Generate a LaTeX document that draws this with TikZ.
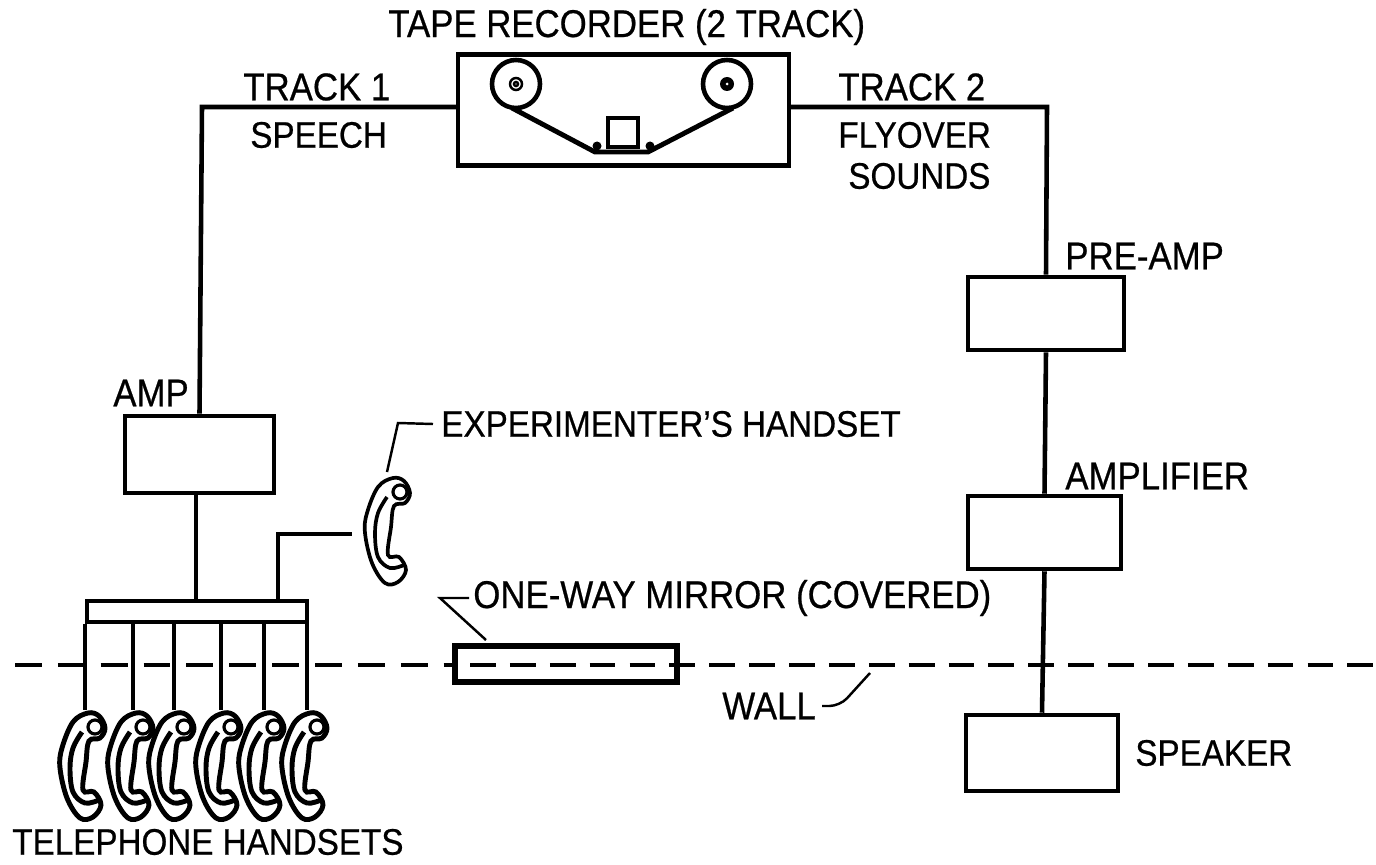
\documentclass[tikz,border=0pt]{standalone}
\usepackage{fontspec}
\setmainfont[FakeStretch=0.9,FakeBold=0.6]{Liberation Sans}
\usetikzlibrary{positioning}

\begin{document}
\begin{tikzpicture}[x=0.02cm,y=-0.02cm,
      bx/.style={rectangle,draw,line width=2.6pt,inner sep=0pt},
      wire/.style={line width=2.6pt},
      lead/.style={line width=1.4pt},
      lab/.style={anchor=west,inner sep=0pt,font=\fontsize{22}{24}\selectfont},
      labn/.style={lab,font=\fontsize{21}{24}\selectfont},
      handset/.pic={
        \draw[line width=#1pt] plot[smooth cycle,tension=0.6] coordinates
          {(8,-52) (19,-49) (25,-37) (20,-27) (9,-24) (6,-3) (3,25) (14,27) (21,40) (13,52) (0,53) (-13,33) (-20,3) (-18,-17) (-7,-43)};
        \draw[line width=1.8pt] (15,-38) circle (7);
        \draw[line width=#1pt] plot[smooth,tension=0.6] coordinates
          {(2,-33) (-7,-17) (-10,3) (-7,27) (5,38) (19,35)};
        \coordinate (-top) at (5,-55);
      }]
      \useasboundingbox (0,0) rectangle (1376,865);
      % boxes
      \node[bx,minimum width=6.62cm,minimum height=2.22cm] (tape)  at (623.5,110) {};
      \node[bx,minimum width=2.98cm,minimum height=1.54cm] (amp)   at (199.5,454.5) {};
      \node[bx,minimum width=3.12cm,minimum height=1.46cm] (pre)   at (1046,313.5) {};
      \node[bx,minimum width=3.06cm,minimum height=1.46cm] (ampl)  at (1044.5,532.5) {};
      \node[bx,minimum width=3.04cm,minimum height=1.52cm] (spkr)  at (1042,753) {};
      \node[bx,minimum width=4.40cm,minimum height=0.42cm] (bar)   at (197,611.5) {};
      \node[bx,line width=3pt,minimum width=4.44cm,minimum height=0.72cm] (mirror) at (566,664) {};
      % tape deck
      \draw[wire] (516,84) circle (24) (727,84) circle (24);
      \draw[lead] (516,84) circle (6) (516,84) circle (2);
      \fill (727,84) circle (7);
      \fill[white] (727,84) circle (1.5);
      \draw[line width=2.8pt] (608,118) rectangle (638,147);
      \draw[line width=2.8pt] (512,108) -- (595,152) -- (648,152) -- (733,108);
      \fill (597,146) circle (4.5) (650,146) circle (4.5);
      % wall
      \coordinate (wl) at (15,665);
      \coordinate (wm) at (453,665);
      \coordinate (wn) at (470,665);
      \coordinate (wr) at (1376,665);
      \draw[wire,dash pattern=on 15.3pt off 9.1pt] (wl) -- (wm);
      \draw[wire,dash pattern=on 14.7pt off 8pt] (wn) -- (wr);
      % handsets
      \pic (exp) at (385,530) {handset=2.1};
      \foreach \n/\x in {1/80,2/128,3/169,4/216,5/259,6/302} {
        \pic (h\n) at (\x,765) {handset=2.8};
        \draw[wire] (h\n-top |- bar.south) -- (h\n-top);
      }
      % wiring
      \coordinate (t1) at (458,107);
      \coordinate (t2) at (789,107);
      \coordinate (c1) at (202,107);
      \coordinate (c2) at (1047,107);
      \draw[wire] (t1) -- (c1) -- (amp.north);
      \draw[wire] (t2) -- (c2) -- (pre.north);
      \draw[wire] (pre.south) -- (ampl.north);
      \draw[wire] (ampl.south) -- (spkr.north);
      \coordinate (a1) at (196,601);
      \draw[wire] (a1 |- amp.south) -- (a1);
      \coordinate (x1) at (278,601);
      \coordinate (x2) at (352,534);
      \draw[wire] (x1) |- (x2);
      % leaders
      \node[labn] (exptxt) at (441,424) {EXPERIMENTER'S HANDSET};
      \node[lab] (mirtxt) at (473,598) {ONE-WAY MIRROR (COVERED)};
      \node[lab] (walltxt) at (722,706) {WALL};
      \coordinate (e1) at (398,423);
      \coordinate (e2) at (387,472);
      \draw[lead] (exptxt.west) ++(-8,0) -- (e1) -- (e2);
      \coordinate (m1) at (440,598);
      \coordinate (m2) at (486,640);
      \draw[lead] (mirtxt.west) ++(-4,0) -- (m1) -- (m2);
      \coordinate (w1) at (840,706);
      \coordinate (w2) at (870,673);
      \draw[lead,rounded corners=6pt] (walltxt.east) ++(6,0) -- (w1) -- (w2);
      % labels
      \node[lab] (title) at (388,27) {TAPE RECORDER (2 TRACK)};
      \node[lab] (tr1) at (243,87) {TRACK 1};
      \node[labn] (sp)  at (250,135) {SPEECH};
      \node[lab] (tr2) at (838,87) {TRACK 2};
      \node[labn] (fly) at (838,135) {FLYOVER};
      \node[labn] (snd) at (848,176) {SOUNDS};
      \node[lab] (lpre) at (1065,256) {PRE-AMP};
      \node[lab] (lamp) at (113,393) {AMP};
      \node[lab] (lampl) at (1065,476) {AMPLIFIER};
      \node[labn] (lspk) at (1135,753) {SPEAKER};
      \node[labn] (tel) at (12,842) {TELEPHONE HANDSETS};
    \end{tikzpicture}
\end{document}
